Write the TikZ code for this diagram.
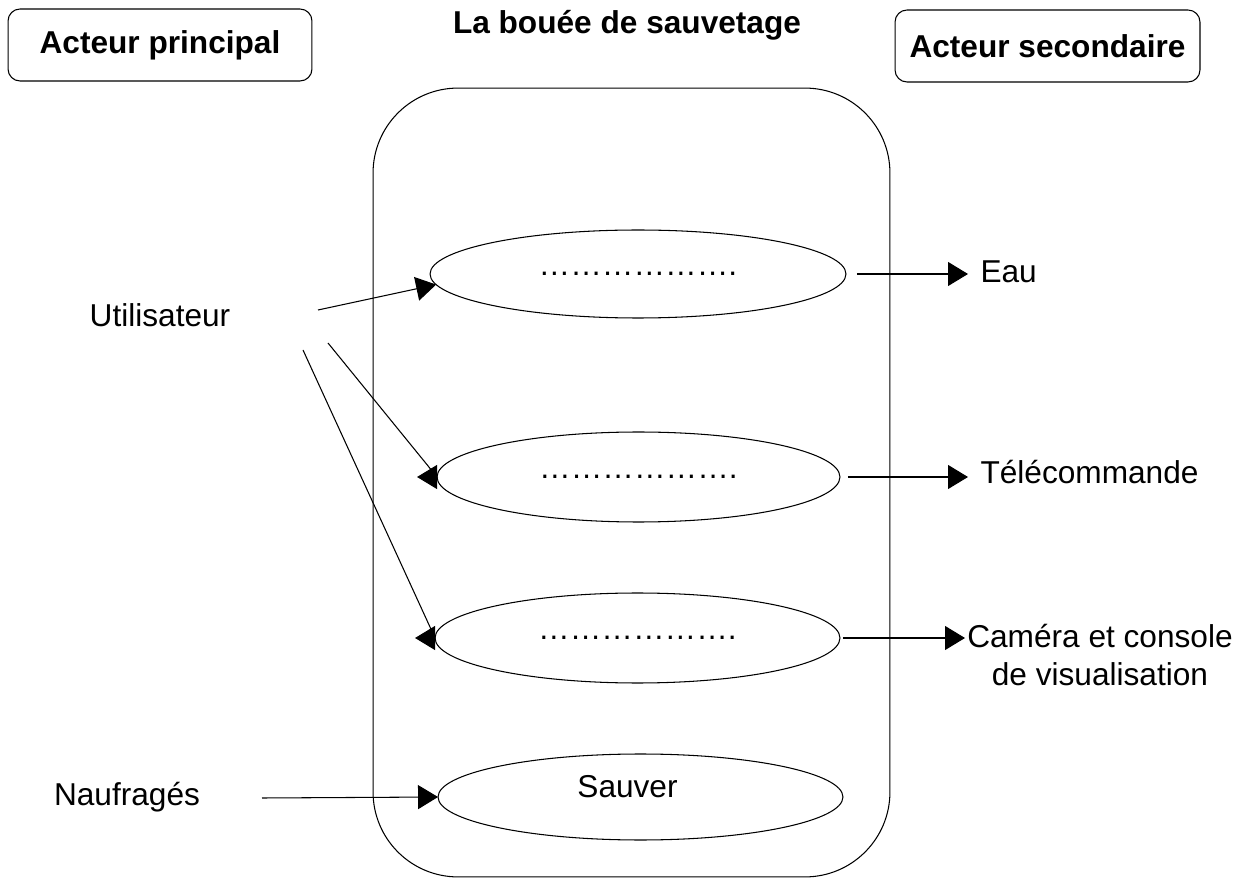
\documentclass[tikz,border=0pt]{standalone}
\usepackage{fontspec}
\setmainfont{Liberation Sans}
\usetikzlibrary{shapes.geometric,arrows.meta}
\begin{document}
\begin{tikzpicture}[x=0.02cm,y=-0.02cm,line width=0.6pt,
        every node/.style={font=\fontsize{18}{22}\selectfont,inner sep=0pt},
        actorbox/.style={draw,rounded corners=0.24cm,minimum width=6.08cm,minimum height=1.44cm,font=\fontsize{18}{22}\selectfont\bfseries},
        usecase/.style={ellipse,draw,outer sep=0pt,minimum width=8.1cm,minimum height=1.8cm},
        actor2/.style={anchor=west,inner xsep=0.24cm},
        arr/.style={-{Triangle[length=0.4cm,width=0.48cm]}}]
        \useasboundingbox (0,0) rectangle (1245,878);
        \node[actorbox] (prim) at (160,45) {Acteur principal};
        \node[actorbox,minimum width=6.1cm] (sec) at (1047.5,46) {Acteur secondaire};
        \node[font=\fontsize{18}{22}\selectfont\bfseries] (title) at (627,25) {La bouée de sauvetage};
        \node[draw,rounded corners=1.7cm,minimum width=10.34cm,minimum height=15.78cm] (sys) at (631.5,482.5) {};
        \node[usecase,minimum width=8.32cm,minimum height=1.76cm] (e1) at (638,274) {……………….};
        \node[usecase,minimum width=8.06cm] (e2) at (638.5,477) {……………….};
        \node[usecase] (e3) at (637.5,638) {……………….};
        \node[usecase,minimum height=1.72cm,label={[yshift=0.2cm,xshift=-0.26cm]center:Sauver}] (e4) at (640.5,797) {};
        \node (util) at (160,315) {Utilisateur};
        \node (nauf) at (127,797) {Naufragés};
        \node[actor2] (eau) at (968,272) {Eau};
        \node[actor2] (tele) at (968,472) {Télécommande};
        \node[actor2,inner xsep=1pt,align=center] (cam) at (965,655) {Caméra et console\\de visualisation};
        \coordinate (u1) at (318,310);
        \coordinate (u2) at (328,343);
        \coordinate (u3) at (303,350);
        \coordinate (n1) at (262,798);
        \draw[arr] (u1) -- (e1.183);
        \draw[arr] (u2) -- (e2.west) -- ++(-20,0);
        \draw[arr] (u3) -- (e3.west) -- ++(-20,0);
        \draw[arr] (n1) -- (e4.west);
        \draw[arr] ([xshift=0.22cm]e1.east) -- (e1 -| eau.west);
        \draw[arr] ([xshift=0.16cm]e2.east) -- (e2 -| tele.west);
        \draw[arr] ([xshift=0.06cm]e3.east) -- (e3 -| cam.west);
\end{tikzpicture}
\end{document}
